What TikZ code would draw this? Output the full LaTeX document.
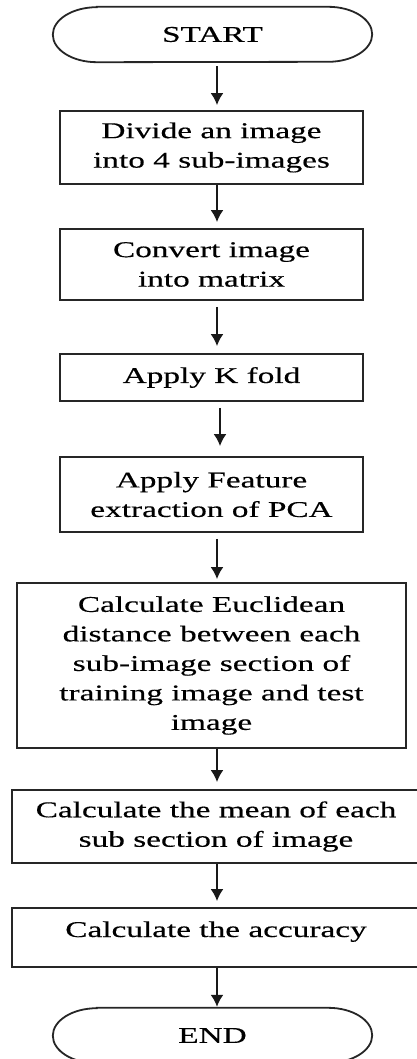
\documentclass[tikz,border=0pt]{standalone}
\usepackage{fontspec}
\setmainfont{Liberation Serif}[FakeStretch=1.48,FakeBold=0.4]
\usetikzlibrary{arrows.meta}
\begin{document}
\begin{tikzpicture}[x=1pt,y=1pt,
  box/.style={draw=black!85, line width=1.8pt, rectangle, align=center, inner sep=0pt,
    font=\fontsize{22.5}{29.5}\selectfont},
  term/.style={rectangle, inner sep=0pt, font=\fontsize{22.5}{29.5}\selectfont},
  stad/.style={draw=black!85, line width=1.8pt},
  arr/.style={draw=black!90, line width=2pt, -{Latex[width=13pt,length=12pt]}}]
\useasboundingbox (0,0) rectangle (417,-1059);

\node[term, minimum width=319pt, minimum height=55pt] (start) at (212.5,-34.5) {START};
\node[box, minimum width=303pt, minimum height=73pt] (b1) at (211.5,-147.5) {Divide an image\\into 4 sub-images};
\node[box, minimum width=303pt, minimum height=71pt] (b2) at (211.5,-264.5) {Convert image\\into matrix};
\node[box, minimum width=303pt, minimum height=47pt] (b3) at (211.5,-377.5) {Apply K fold};
\node[box, minimum width=303pt, minimum height=75pt] (b4) at (211.5,-494.5) {Apply Feature\\extraction of PCA};
\node[box, minimum width=389pt, minimum height=165pt] (b5) at (211.5,-665.5) {Calculate Euclidean\\distance between each\\sub-image section of\\training image and test\\image};
\node[box, minimum width=408pt, minimum height=73pt] (b6) at (216,-826.5) {Calculate the mean of each\\sub section of image};
\node[box, minimum width=408pt, minimum height=59pt, text height=15.5pt, text depth=16.5pt] (b7) at (216,-937.5) {Calculate the accuracy};
\node[term, minimum width=319pt, minimum height=55pt] (end) at (212.5,-1035.5) {END};

\foreach \n in {start,end}{
  \draw[stad] ([xshift=44pt]\n.north west) -- ([xshift=-44pt]\n.north east)
    arc[start angle=90, end angle=-90, x radius=44pt, y radius=27.5pt]
    -- ([xshift=44pt]\n.south west)
    arc[start angle=270, end angle=90, x radius=44pt, y radius=27.5pt] -- cycle;
}

\coordinate (ax) at (217,0);
\coordinate (ax2) at (220,0);
\draw[arr, shorten <=4pt, shorten >=5pt] (start.south -| ax) -- (b1.north -| ax);
\draw[arr, shorten >=6pt] (b1.south -| ax) -- (b2.north -| ax);
\draw[arr, shorten <=6pt, shorten >=7pt] (b2.south -| ax) -- (b3.north -| ax);
\draw[arr, shorten <=6pt, shorten >=10pt] (b3.south -| ax2) -- (b4.north -| ax2);
\draw[arr, shorten <=6pt, shorten >=3pt] (b4.south -| ax) -- (b5.north -| ax);
\draw[arr, shorten >=7pt] (b5.south -| ax) -- (b6.north -| ax);
\draw[arr, shorten >=6pt] (b6.south -| ax) -- (b7.north -| ax);
\draw[arr, shorten >=1pt] (b7.south -| ax) -- (end.north -| ax);
\end{tikzpicture}
\end{document}
